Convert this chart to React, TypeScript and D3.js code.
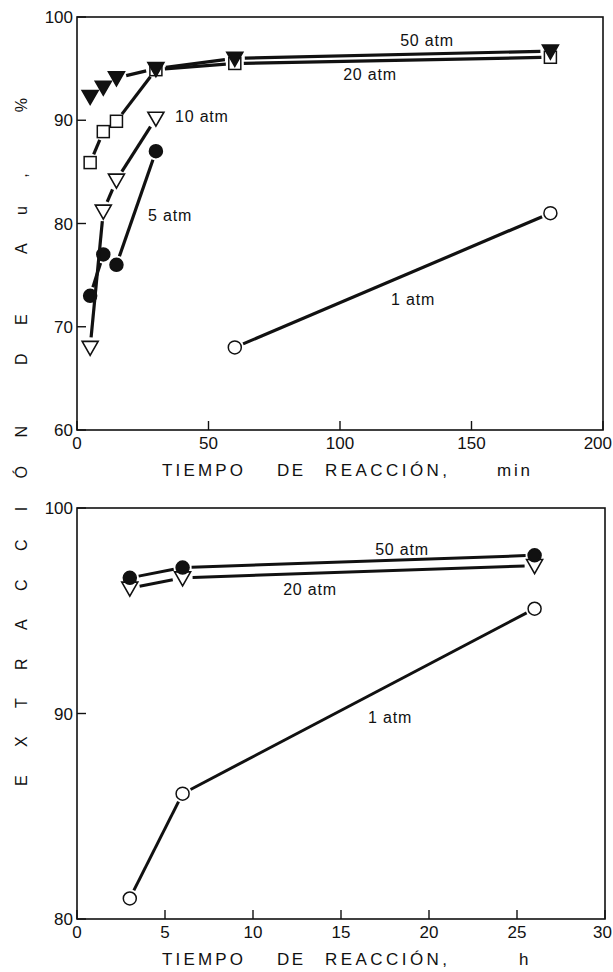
import React from 'react';
import * as d3 from 'd3';

// ---- top panel (minutes) ----
const topXTicks = [0, 50, 100, 150, 200];
const topYTicks = [60, 70, 80, 90, 100];

const topTime50 = [5, 10, 15, 30, 60, 180];
const topVal50 = [92.3, 93.2, 94.1, 95.0, 96.0, 96.7];
const topTime20 = [5, 10, 15, 30, 60, 180];
const topVal20 = [85.9, 88.9, 89.9, 94.9, 95.5, 96.1];
const topTime10 = [5, 10, 15, 30];
const topVal10 = [68, 81.2, 84.2, 90.2];
const topTime5 = [5, 10, 15, 30];
const topVal5 = [73, 77, 76, 87];
const topTime1 = [60, 180];
const topVal1 = [68, 81];

// ---- bottom panel (hours) ----
const botXTicks = [0, 5, 10, 15, 20, 25, 30];
const botYTicks = [80, 90, 100];

const botTime50 = [3, 6, 26];
const botVal50 = [96.6, 97.1, 97.7];
const botTime20 = [3, 6, 26];
const botVal20 = [96.1, 96.6, 97.2];
const botTime1 = [3, 6, 26];
const botVal1 = [81, 86.1, 95.1];

const topTitle = ['TIEMPO', 'DE', 'REACCIÓN,', 'min'];
const botTitle = ['TIEMPO', 'DE', 'REACCIÓN,', 'h'];

const FONT = 'Liberation Sans, Arial, sans-serif';

type Shape = 'triFill' | 'triOpen' | 'square' | 'dotFill' | 'dotOpen';

const markerGap: Record<Shape, number> = {
  triFill: 10, triOpen: 10, square: 9, dotFill: 9, dotOpen: 9,
};

function Marker({ shape, x, y }: { shape: Shape; x: number; y: number }) {
  if (shape === 'triFill' || shape === 'triOpen') {
    const p = `${x - 8},${y - 6} ${x + 8},${y - 6} ${x},${y + 8}`;
    return <polygon points={p} fill={shape === 'triFill' ? '#111' : '#fff'} stroke="#111" strokeWidth={1.6} />;
  }
  if (shape === 'square') {
    return <rect x={x - 6} y={y - 6} width={12} height={12} fill="#fff" stroke="#111" strokeWidth={1.5} />;
  }
  return <circle cx={x} cy={y} r={6.5} fill={shape === 'dotFill' ? '#111' : '#fff'} stroke="#111" strokeWidth={1.5} />;
}

function Series({ xs, ys, x, y, shape, width = 3.2 }: {
  xs: number[]; ys: number[]; x: d3.ScaleLinear<number, number>; y: d3.ScaleLinear<number, number>;
  shape: Shape; width?: number;
}) {
  const pts = xs.map((t, i) => [x(t), y(ys[i])] as [number, number]);
  const gap = markerGap[shape];
  const segs = d3.pairs(pts).map(([a, b], i) => {
    const dx = b[0] - a[0];
    const dy = b[1] - a[1];
    const len = Math.hypot(dx, dy);
    if (len <= gap * 2) return null;
    const ux = dx / len, uy = dy / len;
    return (
      <line key={i} x1={a[0] + ux * gap} y1={a[1] + uy * gap} x2={b[0] - ux * gap} y2={b[1] - uy * gap}
        stroke="#111" strokeWidth={width} />
    );
  });
  return (
    <g>
      {segs}
      {pts.map((p, i) => <Marker key={i} shape={shape} x={p[0]} y={p[1]} />)}
    </g>
  );
}

// word starts / widths of the spaced-out axis title
const titleX = [162, 277, 325, 497];
const titleW = [81, 26, 122, 33];

function Frame({ x, y, xTicks, yTicks, title, lastX }: {
  x: d3.ScaleLinear<number, number>; y: d3.ScaleLinear<number, number>;
  xTicks: number[]; yTicks: number[]; title: string[]; lastX: number;
}) {
  const [x0, x1] = x.range();
  const [y0, y1] = y.range();
  return (
    <g fontFamily={FONT} fill="#111">
      <rect x={x0} y={y1} width={x1 - x0} height={y0 - y1} fill="none" stroke="#111" strokeWidth={1.6} />
      {yTicks.map(t => (
        <g key={'y' + t}>
          <line x1={x0} x2={x0 + 9} y1={y(t)} y2={y(t)} stroke="#111" strokeWidth={1.4} />
          <text x={x0 - 4} y={y(t)} dy="0.36em" textAnchor="end" fontSize={17}>{t}</text>
        </g>
      ))}
      {xTicks.map((t, i) => {
        const last = i === xTicks.length - 1;
        return (
          <g key={'x' + t}>
            <line x1={x(t)} x2={x(t)} y1={y0} y2={y0 - 9} stroke="#111" strokeWidth={1.4} />
            <text x={last ? lastX : x(t)} y={y0 + 19} textAnchor={last ? 'end' : 'middle'} fontSize={17}>{t}</text>
          </g>
        );
      })}
      {title.map((w, i) => (
        <text key={w} x={i === 3 && w === 'h' ? 519 : titleX[i]} y={y0 + 46} fontSize={17}
          textLength={w === 'h' ? undefined : titleW[i]} lengthAdjust="spacing">{w}</text>
      ))}
    </g>
  );
}

export default function App() {
  const xTop = d3.scaleLinear().domain([0, 200]).range([77, 603]);
  const yTop = d3.scaleLinear().domain([60, 100]).range([430, 17]);
  const xBot = d3.scaleLinear().domain([0, 30]).range([77, 605]);
  const yBot = d3.scaleLinear().domain([80, 100]).range([919, 508]);

  return (
    <svg width={613} height={972} style={{ position: 'absolute', left: 0, top: 0, background: '#fff' }}>
      <rect width={613} height={972} fill="#fff" />

      {/* top panel */}
      <Frame x={xTop} y={yTop} xTicks={topXTicks} yTicks={topYTicks} title={topTitle} lastX={612} />
      <Series xs={topTime1} ys={topVal1} x={xTop} y={yTop} shape="dotOpen" />
      <Series xs={topTime5} ys={topVal5} x={xTop} y={yTop} shape="dotFill" />
      <Series xs={topTime10} ys={topVal10} x={xTop} y={yTop} shape="triOpen" />
      <Series xs={topTime20} ys={topVal20} x={xTop} y={yTop} shape="square" />
      <Series xs={topTime50} ys={topVal50} x={xTop} y={yTop} shape="triFill" />
      <g fontFamily={FONT} fontSize={16} fill="#111" letterSpacing={0.8}>
        <text x={427} y={46} textAnchor="middle">50 atm</text>
        <text x={370} y={80} textAnchor="middle">20 atm</text>
        <text x={175} y={122}>10 atm</text>
        <text x={148} y={221}>5 atm</text>
        <text x={391} y={305}>1 atm</text>
      </g>

      {/* bottom panel */}
      <Frame x={xBot} y={yBot} xTicks={botXTicks} yTicks={botYTicks} title={botTitle} lastX={612} />
      <Series xs={botTime1} ys={botVal1} x={xBot} y={yBot} shape="dotOpen" width={3} />
      <Series xs={botTime20} ys={botVal20} x={xBot} y={yBot} shape="triOpen" width={3} />
      <Series xs={botTime50} ys={botVal50} x={xBot} y={yBot} shape="dotFill" width={3} />
      <g fontFamily={FONT} fontSize={16} fill="#111" letterSpacing={0.8}>
        <text x={402} y={555} textAnchor="middle">50 atm</text>
        <text x={310} y={595} textAnchor="middle">20 atm</text>
        <text x={368} y={723}>1 atm</text>
      </g>

      {/* shared y label */}
      <text transform="translate(27,786) rotate(-90)" fontFamily={FONT} fontSize={16} fill="#111"
        textLength={688} lengthAdjust="spacing">EXTRACCIÓN DE Au, %</text>
    </svg>
  );
}
